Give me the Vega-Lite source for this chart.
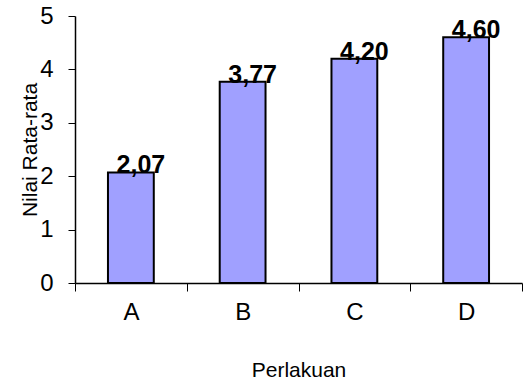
{
  "$schema": "https://vega.github.io/schema/vega-lite/v6.json",
  "width": 447,
  "height": 267,
  "autosize": "none",
  "padding": {"left": 75, "top": 16, "right": 6, "bottom": 102},
  "background": "white",
  "config": {
    "view": {"stroke": null},
    "font": "Liberation Sans"
  },
  "data": {
    "values": [
      {"perlakuan": "A", "nilai": 2.07, "label": "2,07"},
      {"perlakuan": "B", "nilai": 3.77, "label": "3,77"},
      {"perlakuan": "C", "nilai": 4.20, "label": "4,20"},
      {"perlakuan": "D", "nilai": 4.60, "label": "4,60"}
    ]
  },
  "encoding": {
    "x": {
      "field": "perlakuan",
      "type": "nominal",
      "scale": {"paddingInner": 0, "paddingOuter": 0},
      "axis": {
        "title": "Perlakuan",
        "labelAngle": 0,
        "labelFontSize": 24,
        "labelColor": "black",
        "labelPadding": 9,
        "tickBand": "extent",
        "tickSize": 8,
        "tickColor": "black",
        "tickWidth": 1,
        "titleFontSize": 21,
        "titleFontWeight": "normal",
        "titleColor": "black",
        "titleY": 87,
        "titleBaseline": "middle",
        "domainColor": "black",
        "domainWidth": 1.5,
        "grid": false
      }
    },
    "y": {
      "field": "nilai",
      "type": "quantitative",
      "scale": {"domain": [0, 5], "nice": false},
      "axis": {
        "title": "Nilai Rata-rata",
        "values": [0, 1, 2, 3, 4, 5],
        "labelFontSize": 24,
        "labelColor": "black",
        "labelPadding": 15,
        "tickSize": 7,
        "tickColor": "black",
        "tickWidth": 1,
        "domainColor": "black",
        "domainWidth": 1.5,
        "titleFontSize": 21,
        "titleFontWeight": "normal",
        "titleColor": "black",
        "titleX": -45,
        "titleBaseline": "middle",
        "grid": false
      }
    }
  },
  "layer": [
    {
      "mark": {"type": "bar", "width": {"band": 0.41}, "color": "#a0a0ff", "stroke": "black", "strokeWidth": 2}
    },
    {
      "mark": {"type": "text", "fontSize": 25, "fontWeight": "bold", "color": "black", "baseline": "alphabetic", "dx": 10, "dy": 1},
      "encoding": {"text": {"field": "label"}}
    }
  ]
}
